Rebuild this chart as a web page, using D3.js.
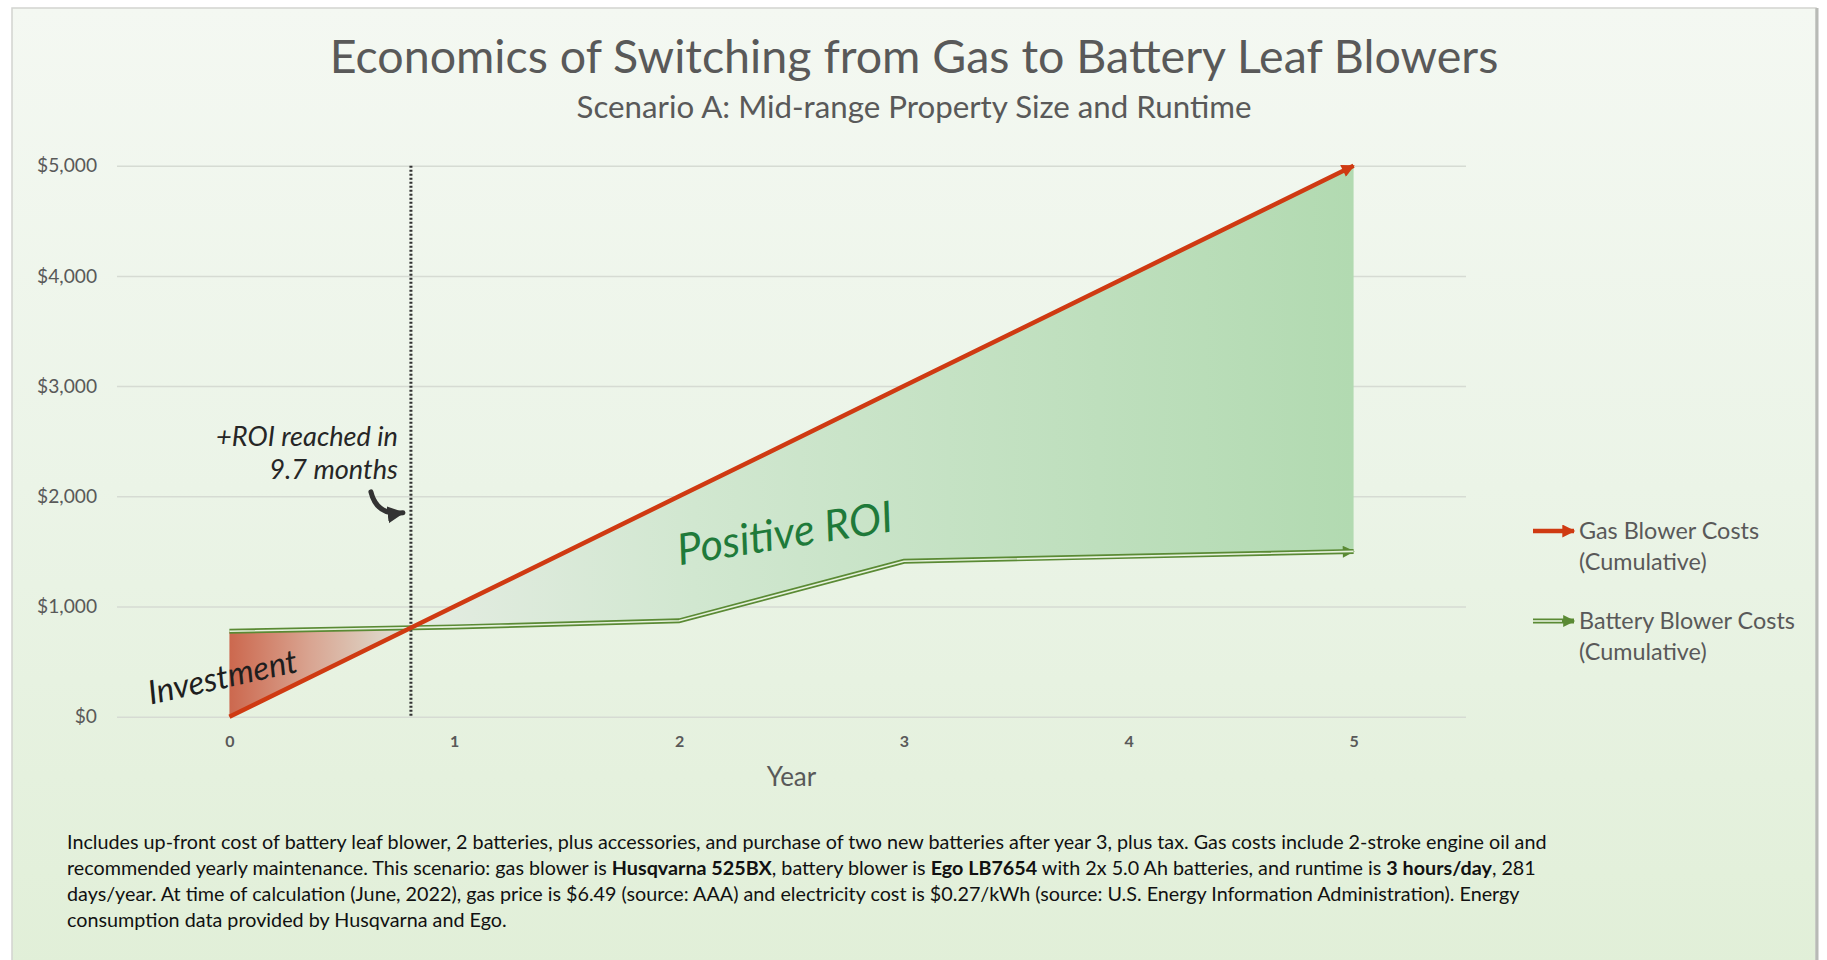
<!DOCTYPE html>
<html>
<head>
<meta charset="utf-8">
<script src="https://cdn.jsdelivr.net/npm/d3@7"></script>
<style>
  body { margin: 0; background: #fff; }
  svg { display: block; }
</style>
</head>
<body>
<div id="chart"></div>
<script>
// chart values
var years = [0, 1, 2, 3, 4, 5];
var gasCost = [0, 1000, 2000, 3000, 4000, 5000];
var batteryCost = [775, 815, 870, 1410, 1455, 1500];
var yTicks = [0, 1000, 2000, 3000, 4000, 5000];
var seriesNames = [["Gas Blower Costs", "(Cumulative)"], ["Battery Blower Costs", "(Cumulative)"]];
var roiNote = ["+ROI reached in", "9.7 months"];
var footnote = [
  "Includes up-front cost of battery leaf blower, 2 batteries, plus accessories, and purchase of two new batteries after year 3, plus tax. Gas costs include 2-stroke engine oil and",
  "recommended yearly maintenance. This scenario: gas blower is **Husqvarna 525BX**, battery blower is **Ego LB7654** with 2x 5.0 Ah batteries, and runtime is **3 hours/day**, 281",
  "days/year. At time of calculation (June, 2022), gas price is $6.49 (source: AAA) and electricity cost is $0.27/kWh (source: U.S. Energy Information Administration). Energy",
  "consumption data provided by Husqvarna and Ego."
];

var W = 1827, H = 960;
var font = "Lato, 'Open Sans', sans-serif";
var hand = "'Segoe Print', Lato, sans-serif";
var grey = "#595959";

var svg = d3.select("#chart").append("svg")
  .attr("width", W).attr("height", H);

var defs = svg.append("defs");

// background gradient
var bg = defs.append("linearGradient").attr("id", "bg")
  .attr("x1", 0).attr("y1", 0).attr("x2", 0).attr("y2", 1);
bg.append("stop").attr("offset", 0).attr("stop-color", "#f4f8f2");
bg.append("stop").attr("offset", 0.5).attr("stop-color", "#ebf4e7");
bg.append("stop").attr("offset", 1).attr("stop-color", "#e1efd8");

svg.append("rect")
  .attr("x", 12).attr("y", 8).attr("width", 1804).attr("height", H)
  .attr("fill", "url(#bg)")
  .attr("stroke", "#d2d4d0").attr("stroke-width", 1.5);
svg.append("line")
  .attr("x1", 1817).attr("x2", 1817).attr("y1", 8).attr("y2", H)
  .attr("stroke", "#b8bab6").attr("stroke-width", 3);

function fit(sel, w) {
  var len = sel.node().getComputedTextLength();
  var fs = parseFloat(sel.attr("font-size"));
  sel.attr("font-size", fs * w / len);
  return fs * w / len;
}

// titles
var title = svg.append("text")
  .attr("x", 914).attr("y", 73).attr("text-anchor", "middle")
  .attr("font-family", font).attr("font-size", 44)
  .attr("fill", grey)
  .text("Economics of Switching from Gas to Battery Leaf Blowers");
fit(title, 1169);

var sub = svg.append("text")
  .attr("x", 914).attr("y", 118).attr("text-anchor", "middle")
  .attr("font-family", font).attr("font-size", 26)
  .attr("fill", grey)
  .text("Scenario A: Mid-range Property Size and Runtime");
fit(sub, 675);

// scales
var x = d3.scaleLinear().domain([-0.5, 5.5]).range([117, 1466]);
var y = d3.scaleLinear().domain([0, 5000]).range([716.7, 165.7]);

// gridlines
svg.append("g")
  .attr("transform", "translate(117,0)")
  .call(d3.axisLeft(y).tickValues(yTicks).tickSize(-(1466 - 117)).tickFormat(""))
  .call(function(g) {
    g.select(".domain").remove();
    g.selectAll("line").attr("stroke", "#d6dbd3").attr("stroke-width", 1.5);
  });

// y axis labels
var yAxis = svg.append("g")
  .attr("transform", "translate(117,0)")
  .call(d3.axisLeft(y).tickValues(yTicks).tickSize(0).tickPadding(20).tickFormat(d3.format("$,")))
  .call(function(g) {
    g.select(".domain").remove();
    g.selectAll("text").attr("font-family", font).attr("font-size", 20).attr("fill", grey);
  });
var topLabel = yAxis.selectAll("text").filter(function(d) { return d === 5000; });
var yfs = fit(topLabel, 60);
yAxis.selectAll("text").attr("font-size", yfs);

// x axis labels
svg.append("g")
  .attr("transform", "translate(0," + y(0) + ")")
  .call(d3.axisBottom(x).tickValues(years).tickSize(0).tickPadding(19).tickFormat(d3.format("d")))
  .call(function(g) {
    g.select(".domain").remove();
    g.selectAll("text").attr("font-family", font).attr("font-size", 16)
      .attr("font-weight", 700).attr("fill", grey);
  });

svg.append("text")
  .attr("x", (x.range()[0] + x.range()[1]) / 2).attr("y", 786)
  .attr("text-anchor", "middle")
  .attr("font-family", font).attr("font-size", 26).attr("fill", grey)
  .text("Year");

// break-even point between year 0 and 1
var rows = years.map(function(d, i) { return { year: d, gas: gasCost[i], batt: batteryCost[i] }; });
var d0 = rows[0].batt - rows[0].gas, d1 = rows[1].batt - rows[1].gas;
var t = d0 / (d0 - d1);
var cross = {
  year: rows[0].year + t * (rows[1].year - rows[0].year),
  gas: rows[0].gas + t * (rows[1].gas - rows[0].gas),
  batt: rows[0].batt + t * (rows[1].batt - rows[0].batt)
};
var redPart = [rows[0], cross];
var greenPart = [cross].concat(rows.slice(1));

var rg = defs.append("linearGradient").attr("id", "redFill")
  .attr("gradientUnits", "userSpaceOnUse")
  .attr("x1", x(0)).attr("x2", x(cross.year)).attr("y1", 0).attr("y2", 0);
rg.append("stop").attr("offset", 0).attr("stop-color", "#cc684e");
rg.append("stop").attr("offset", 0.45).attr("stop-color", "#d9a592");
rg.append("stop").attr("offset", 1).attr("stop-color", "#dfe6d9");

var gg = defs.append("linearGradient").attr("id", "greenFill")
  .attr("gradientUnits", "userSpaceOnUse")
  .attr("x1", x(cross.year)).attr("x2", x(5)).attr("y1", 0).attr("y2", 0);
gg.append("stop").attr("offset", 0).attr("stop-color", "#e4ece2");
gg.append("stop").attr("offset", 0.3).attr("stop-color", "#d1e7d0");
gg.append("stop").attr("offset", 1).attr("stop-color", "#b2dab1");

var area = d3.area()
  .x(function(d) { return x(d.year); })
  .y0(function(d) { return y(d.batt); })
  .y1(function(d) { return y(d.gas); });

svg.append("path").datum(redPart).attr("d", area).attr("fill", "url(#redFill)");
svg.append("path").datum(greenPart).attr("d", area).attr("fill", "url(#greenFill)");

// dotted break-even line
svg.append("line")
  .attr("x1", x(cross.year)).attr("x2", x(cross.year))
  .attr("y1", y(5000)).attr("y2", y(0))
  .attr("stroke", "#333333").attr("stroke-width", 3)
  .attr("stroke-dasharray", "2,2");

// arrow markers
function marker(id, color, w, h) {
  defs.append("marker").attr("id", id)
    .attr("markerUnits", "userSpaceOnUse")
    .attr("markerWidth", w).attr("markerHeight", h)
    .attr("viewBox", "0 0 10 10").attr("refX", 9).attr("refY", 5)
    .attr("orient", "auto")
    .append("path").attr("d", "M0,0L10,5L0,10z").attr("fill", color);
}
marker("gasHead", "#cf3a12", 15, 13);
marker("battHead", "#5a8a34", 15, 12);
marker("noteHead", "#333333", 17, 20);

var line = function(key) {
  return d3.line().x(function(d) { return x(d.year); }).y(function(d) { return y(d[key]); });
};

// battery: double line
svg.append("path").datum(rows).attr("d", line("batt"))
  .attr("fill", "none").attr("stroke", "#5a8a34").attr("stroke-width", 5)
  .attr("marker-end", "url(#battHead)");
svg.append("path").datum(rows).attr("d", line("batt"))
  .attr("fill", "none").attr("stroke", "#e6f1dd").attr("stroke-width", 1.6);

// gas
svg.append("path").datum(rows).attr("d", line("gas"))
  .attr("fill", "none").attr("stroke", "#cf3a12").attr("stroke-width", 4.5)
  .attr("marker-end", "url(#gasHead)");

// annotations
var xb = x(cross.year);
var n1 = svg.append("text")
  .attr("x", xb - 13).attr("y", y(2455)).attr("text-anchor", "end")
  .attr("font-family", hand).attr("font-style", "italic").attr("font-size", 24)
  .attr("fill", "#262626").text(roiNote[0]);
var nfs = fit(n1, 182);
svg.append("text")
  .attr("x", xb - 13).attr("y", y(2160)).attr("text-anchor", "end")
  .attr("font-family", hand).attr("font-style", "italic").attr("font-size", nfs)
  .attr("fill", "#262626").text(roiNote[1]);

svg.append("path")
  .attr("d", "M" + (xb - 40) + "," + y(2040) + "Q" + (xb - 34) + "," + y(1820) + " " + (xb - 8) + "," + y(1850))
  .attr("fill", "none").attr("stroke", "#333333").attr("stroke-width", 5)
  .attr("stroke-linecap", "round")
  .attr("marker-end", "url(#noteHead)");

var pos = svg.append("text")
  .attr("transform", "translate(" + x(2.48) + "," + y(1530) + ") rotate(-9)")
  .attr("text-anchor", "middle")
  .attr("font-family", hand).attr("font-style", "italic").attr("font-size", 36)
  .attr("fill", "#1f7a3a").text("Positive ROI");
fit(pos, 218);

var inv = svg.append("text")
  .attr("transform", "translate(" + x(-0.02) + "," + y(260) + ") rotate(-12.5)")
  .attr("text-anchor", "middle")
  .attr("font-family", hand).attr("font-style", "italic").attr("font-size", 26)
  .attr("fill", "#1e1e1e").text("Investment");
fit(inv, 152);

// legend
var legY = [531, 621];
var legend = svg.append("g");
legend.append("line")
  .attr("x1", 1533).attr("x2", 1574).attr("y1", legY[0]).attr("y2", legY[0])
  .attr("stroke", "#cf3a12").attr("stroke-width", 4.5).attr("marker-end", "url(#gasHead)");
legend.append("line")
  .attr("x1", 1533).attr("x2", 1574).attr("y1", legY[1]).attr("y2", legY[1])
  .attr("stroke", "#5a8a34").attr("stroke-width", 5).attr("marker-end", "url(#battHead)");
legend.append("line")
  .attr("x1", 1533).attr("x2", 1562).attr("y1", legY[1]).attr("y2", legY[1])
  .attr("stroke", "#e6f1dd").attr("stroke-width", 1.6);

var lt = legend.append("text")
  .attr("x", 1579).attr("y", legY[1] + 8)
  .attr("font-family", font).attr("font-size", 22).attr("fill", grey)
  .text(seriesNames[1][0]);
var lfs = fit(lt, 216);
legend.append("text")
  .attr("x", 1579).attr("y", legY[1] + 39)
  .attr("font-family", font).attr("font-size", lfs).attr("fill", grey)
  .text(seriesNames[1][1]);
seriesNames[0].forEach(function(s, i) {
  legend.append("text")
    .attr("x", 1579).attr("y", legY[0] + 8 + i * 31)
    .attr("font-family", font).attr("font-size", lfs).attr("fill", grey)
    .text(s);
});

// footnote with bold parts
var foot = svg.append("g");
var lines = footnote.map(function(s, i) {
  var tx = foot.append("text")
    .attr("x", 67).attr("y", 849 + i * 26)
    .attr("font-family", font).attr("font-size", 18).attr("fill", "#111");
  s.split("**").forEach(function(part, j) {
    tx.append("tspan").attr("font-weight", j % 2 ? 700 : 400).text(part);
  });
  return tx;
});
var ffs = fit(lines[0], 1480);
lines.forEach(function(l) { l.attr("font-size", ffs); });
</script>
</body>
</html>
